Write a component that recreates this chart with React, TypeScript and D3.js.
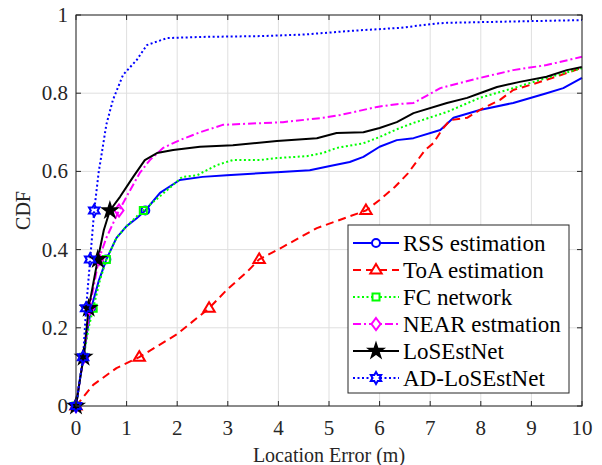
import React from "react";
import * as d3 from "d3";

// ---- data (location error in m, CDF) ----
const rssX = [0, 0.08, 0.15, 0.22, 0.3, 0.45, 0.6, 0.8, 1.0, 1.2, 1.37, 1.66, 2.05, 2.5, 2.98, 3.97, 4.62, 5.02, 5.41, 5.68, 6.0, 6.34, 6.67, 7.2, 7.46, 7.98, 8.64, 9.3, 9.63, 10];
const rssY = [0, 0.07, 0.125, 0.19, 0.25, 0.32, 0.375, 0.43, 0.46, 0.48, 0.5, 0.545, 0.578, 0.586, 0.59, 0.598, 0.603, 0.614, 0.624, 0.637, 0.663, 0.68, 0.685, 0.706, 0.737, 0.757, 0.775, 0.8, 0.813, 0.839];

const toaX = [0, 0.34, 0.8, 1.25, 2.0, 2.63, 2.98, 3.38, 3.62, 4.09, 4.76, 5.73, 6.0, 6.3, 6.56, 6.9, 7.06, 7.23, 7.39, 7.73, 7.98, 8.38, 8.64, 9.1, 9.57, 10];
const toaY = [0, 0.054, 0.097, 0.125, 0.184, 0.25, 0.297, 0.343, 0.375, 0.407, 0.455, 0.5, 0.527, 0.56, 0.595, 0.655, 0.672, 0.706, 0.731, 0.737, 0.757, 0.783, 0.808, 0.826, 0.846, 0.865];

const fcX = [0, 0.08, 0.15, 0.25, 0.34, 0.47, 0.6, 0.8, 1.0, 1.2, 1.33, 1.8, 2.1, 2.39, 2.78, 3.1, 3.64, 3.97, 4.56, 4.88, 5.15, 5.68, 6.0, 6.4, 6.67, 7.33, 7.98, 8.64, 9.3, 10];
const fcY = [0, 0.07, 0.125, 0.2, 0.25, 0.32, 0.375, 0.43, 0.46, 0.485, 0.5, 0.552, 0.586, 0.59, 0.616, 0.629, 0.629, 0.634, 0.639, 0.647, 0.66, 0.672, 0.688, 0.711, 0.724, 0.752, 0.788, 0.813, 0.839, 0.864];

const nearX = [0, 0.08, 0.15, 0.27, 0.45, 0.6, 0.85, 1.07, 1.26, 1.46, 1.72, 2.05, 2.45, 2.9, 4.09, 4.88, 5.22, 5.95, 6.34, 6.67, 7.2, 7.98, 8.64, 9.3, 10];
const nearY = [0, 0.07, 0.125, 0.25, 0.375, 0.43, 0.5, 0.552, 0.596, 0.629, 0.66, 0.68, 0.7, 0.719, 0.726, 0.737, 0.744, 0.765, 0.772, 0.775, 0.813, 0.839, 0.859, 0.872, 0.893];

const losX = [0, 0.08, 0.15, 0.25, 0.43, 0.55, 0.67, 0.87, 1.13, 1.36, 1.6, 1.92, 2.45, 3.1, 3.97, 4.76, 5.15, 5.68, 6.0, 6.34, 6.67, 7.33, 7.73, 7.98, 8.32, 8.77, 9.3, 9.7, 10];
const losY = [0, 0.07, 0.125, 0.25, 0.375, 0.45, 0.5, 0.535, 0.586, 0.629, 0.647, 0.655, 0.663, 0.667, 0.678, 0.685, 0.698, 0.7, 0.711, 0.726, 0.749, 0.775, 0.788, 0.8, 0.816, 0.829, 0.842, 0.859, 0.867];

const adX = [0, 0.14, 0.2, 0.28, 0.36, 0.45, 0.51, 0.6, 0.73, 0.93, 1.2, 1.4, 1.8, 2.5, 3.64, 4.5, 5.5, 6.4, 7.1, 7.33, 10];
const adY = [0, 0.125, 0.25, 0.375, 0.5, 0.6, 0.647, 0.72, 0.783, 0.847, 0.885, 0.923, 0.941, 0.944, 0.946, 0.95, 0.96, 0.967, 0.978, 0.98, 0.987];

const markerLevels = [0, 0.125, 0.25, 0.375, 0.5];

const seriesNames = ["RSS estimation", "ToA estimation", "FC network", "NEAR estmation", "LoSEstNet", "AD-LoSEstNet"];
const xTicks = [0, 1, 2, 3, 4, 5, 6, 7, 8, 9, 10];
const yTicks = [0, 0.2, 0.4, 0.6, 0.8, 1];

type Marker = "circle" | "triangle" | "square" | "diamond" | "star" | "hexagram";
interface Series { name: string; xs: number[]; ys: number[]; color: string; dash: string; marker: Marker; }

const series: Series[] = [
  { name: seriesNames[0], xs: rssX, ys: rssY, color: "#0000ff", dash: "none", marker: "circle" },
  { name: seriesNames[1], xs: toaX, ys: toaY, color: "#ff0000", dash: "8,5", marker: "triangle" },
  { name: seriesNames[2], xs: fcX, ys: fcY, color: "#00ff00", dash: "2,2.5", marker: "square" },
  { name: seriesNames[3], xs: nearX, ys: nearY, color: "#ff00ff", dash: "8,3,2,3", marker: "diamond" },
  { name: seriesNames[4], xs: losX, ys: losY, color: "#000000", dash: "none", marker: "star" },
  { name: seriesNames[5], xs: adX, ys: adY, color: "#0000ff", dash: "2,2.5", marker: "hexagram" },
];

const W = 602, H = 465;
const left = 76, right = 582, top = 15, bottom = 406;

function markerPath(m: Marker): string {
  switch (m) {
    case "circle": return d3.symbol(d3.symbolCircle, 50)()!;
    case "square": return d3.symbol(d3.symbolSquare, 49)()!;
    case "diamond": {
      const a = 6, b = 4.5;
      return `M0,${-a}L${b},0L0,${a}L${-b},0Z`;
    }
    case "triangle": {
      const s = 6;
      return `M0,${-s}L${s * 0.95},${s * 0.6}L${-s * 0.95},${s * 0.6}Z`;
    }
    case "star": return d3.symbol(d3.symbolStar, 60)()!;
    case "hexagram": {
      const R = 6, r = R / Math.sqrt(3);
      const pts: string[] = [];
      for (let i = 0; i < 12; i++) {
        const ang = -Math.PI / 2 + (i * Math.PI) / 6;
        const rad = i % 2 === 0 ? R : r;
        pts.push(`${(rad * Math.cos(ang)).toFixed(2)},${(rad * Math.sin(ang)).toFixed(2)}`);
      }
      return "M" + pts.join("L") + "Z";
    }
  }
}

function interpX(xs: number[], ys: number[], y: number): number {
  for (let i = 0; i < ys.length - 1; i++) {
    if (y >= ys[i] && y <= ys[i + 1]) {
      const t = ys[i + 1] === ys[i] ? 0 : (y - ys[i]) / (ys[i + 1] - ys[i]);
      return xs[i] + t * (xs[i + 1] - xs[i]);
    }
  }
  return xs[0];
}

export default function App() {
  const x = d3.scaleLinear().domain([0, 10]).range([left, right]);
  const y = d3.scaleLinear().domain([0, 1]).range([bottom, top]);
  const line = d3.line<[number, number]>().x(d => x(d[0])).y(d => y(d[1]));
  const font = "'Liberation Serif', 'Times New Roman', serif";
  const axisColor = "#262626";

  const lgX = 348, lgY = 225, lgW = 221, lgH = 168, rowH = 27;

  return (
    <svg width={W} height={H} style={{ position: "absolute", left: 0, top: 0, background: "#fff" }} fontFamily={font}>
      <rect x={0} y={0} width={W} height={H} fill="#fff" />
      {/* grid */}
      {xTicks.map(t => (
        <line key={"gx" + t} x1={x(t)} x2={x(t)} y1={top} y2={bottom} stroke="#dfdfdf" strokeWidth={1} />
      ))}
      {yTicks.map(t => (
        <line key={"gy" + t} x1={left} x2={right} y1={y(t)} y2={y(t)} stroke="#dfdfdf" strokeWidth={1} />
      ))}
      {/* series */}
      {series.map(s => {
        const pts = s.xs.map((v, i) => [v, s.ys[i]] as [number, number]);
        return (
          <path key={s.name} d={line(pts)!} fill="none" stroke={s.color} strokeWidth={2}
            strokeDasharray={s.dash === "none" ? undefined : s.dash} strokeLinejoin="round" />
        );
      })}
      {series.map(s => {
        const d = markerPath(s.marker);
        return markerLevels.map(lv => {
          const mx = interpX(s.xs, s.ys, lv);
          return (
            <path key={s.name + lv} d={d} transform={`translate(${x(mx)},${y(lv)})`}
              fill={s.marker === "star" ? s.color : "none"} stroke={s.color} strokeWidth={2} strokeLinejoin="miter" />
          );
        });
      })}
      {/* axes box */}
      <rect x={left} y={top} width={right - left} height={bottom - top} fill="none" stroke={axisColor} strokeWidth={1} />
      {xTicks.map(t => (
        <g key={"tx" + t}>
          <line x1={x(t)} x2={x(t)} y1={bottom} y2={bottom - 5} stroke={axisColor} />
          <line x1={x(t)} x2={x(t)} y1={top} y2={top + 5} stroke={axisColor} />
          <text x={x(t)} y={bottom + 29} textAnchor="middle" fontSize={21} fill={axisColor}>{t}</text>
        </g>
      ))}
      {yTicks.map(t => (
        <g key={"ty" + t}>
          <line x1={left} x2={left + 5} y1={y(t)} y2={y(t)} stroke={axisColor} />
          <line x1={right} x2={right - 5} y1={y(t)} y2={y(t)} stroke={axisColor} />
          <text x={left - 8} y={y(t) + 7} textAnchor="end" fontSize={21} fill={axisColor}>{String(t)}</text>
        </g>
      ))}
      <text x={(left + right) / 2} y={462} textAnchor="middle" fontSize={20} fill={axisColor}>Location Error (m)</text>
      <text transform={`translate(30,${(top + bottom) / 2}) rotate(-90)`} textAnchor="middle" fontSize={20} fill={axisColor}>CDF</text>
      {/* legend */}
      <rect x={lgX} y={lgY} width={lgW} height={lgH} fill="#fff" stroke={axisColor} strokeWidth={1} />
      {series.map((s, i) => {
        const cy = lgY + 18 + i * rowH;
        return (
          <g key={"lg" + s.name}>
            <line x1={lgX + 5} x2={lgX + 51} y1={cy} y2={cy} stroke={s.color} strokeWidth={2}
              strokeDasharray={s.dash === "none" ? undefined : s.dash} />
            <path d={markerPath(s.marker)} transform={`translate(${lgX + 28},${cy})`}
              fill={s.marker === "star" ? s.color : "#fff"} stroke={s.color} strokeWidth={2} />
            <text x={lgX + 55} y={cy + 8} fontSize={23} fill="#000">{s.name}</text>
          </g>
        );
      })}
    </svg>
  );
}
